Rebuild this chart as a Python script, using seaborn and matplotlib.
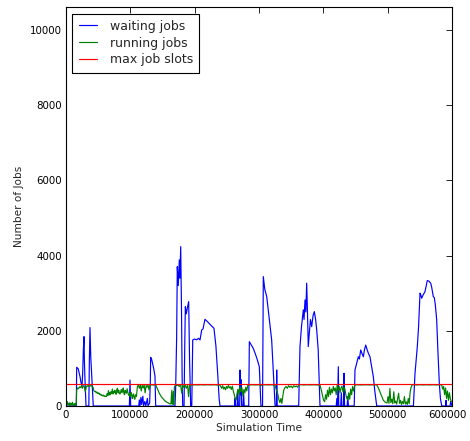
import matplotlib
matplotlib.use("Agg")
import matplotlib.pyplot as plt
import matplotlib.transforms as mtransforms
import seaborn as sns
import pandas as pd

# Simulation time in thousands of seconds, job counts
waiting_t = [0, 16, 16.6, 19, 21.8, 23, 24.9, 26, 27, 28, 28.6, 29.5, 31.1, 35.5, 36.3, 37.3, 38.5, 40, 41.5, 42.4,
             98.5, 99.5, 100.5, 113, 114, 115, 116.5, 117.5, 119.5, 120.5, 122.5, 124, 126.5, 127.5, 130, 131,
             131.6, 133, 135, 136.5, 138.3, 139.4,
             169.4, 170.5, 172, 173, 174.5, 176.1, 177, 178.3, 179.5, 180.5, 181.4, 183.5, 184.5, 185.5, 187,
             188.5, 190.7, 192, 193.8, 195.5, 197, 200, 203, 206, 208.3, 210.9, 213, 216, 220, 225, 230, 233,
             236, 238, 239.4,
             262, 262.8, 263.6, 266, 267, 268, 270, 270.5, 271.3, 272, 273, 275, 276, 277, 284, 285, 288, 291,
             294, 297, 300.5, 303, 305.5, 306.7, 309, 312, 315, 317.5, 319.7, 322, 325, 327, 327.5, 328.3,
             361.7, 363.7, 366, 368.9, 370, 371.5, 372.8, 374.1, 375.2, 376.6, 378, 380, 381.9, 384, 386, 388,
             389.7, 392, 394.8,
             420, 421, 422, 423.3, 424, 427, 428, 429, 431.5, 432.1, 433, 437, 438, 439, 448, 449.2, 452, 454.4,
             456, 458.1, 460, 462.2, 464, 465.9, 468, 470, 472.5, 475, 477.7, 480, 483,
             540, 542.5, 546.1, 548, 550.3, 551.5, 552.9, 555, 558, 560, 561.6, 564, 566.9, 568.5, 570.9, 572.5,
             574, 576.2, 578, 580.3, 582, 584, 590, 590.7, 591.4, 597, 598, 600]
waiting_n = [0, 0, 1030, 990, 780, 650, 515, 900, 1500, 1845, 1200, 700, 0, 0, 1200, 2085, 1300, 800, 300, 0,
             0, 690, 0, 0, 160, 0, 230, 40, 260, 0, 120, 0, 200, 0, 80, 600,
             1295, 1250, 1100, 980, 800, 0,
             0, 500, 1845, 3705, 3200, 3884, 3400, 4237, 2600, 800, 0, 0, 1500, 2640, 2450,
             2600, 2775, 1300, 0, 0, 1755, 1780, 1760, 1800, 1755, 2020, 2050, 2305, 2240, 2150, 2065, 1600,
             800, 200, 0,
             0, 210, 0, 0, 420, 0, 0, 958, 300, 700, 0, 0, 380, 0, 0, 1710, 1620, 1535,
             1400, 1250, 1045, 0, 0, 3440, 3100, 2910, 2450, 2050, 1755, 1000, 0, 0, 958, 0,
             0, 1580, 2100, 2555, 2300, 2820, 2500, 3265, 2600, 1580, 1900, 2300, 2110, 2400, 2510, 2300,
             2020, 1500, 0,
             0, 200, 0, 1045, 0, 0, 350, 0, 0, 870, 0, 0, 250, 0, 0, 958, 1150, 1310,
             1250, 1490, 1400, 1310, 1500, 1620, 1500, 1400, 1310, 1050, 780, 400, 0,
             0, 870, 1580, 2100, 3000, 2950, 2865, 2950, 3040, 3200, 3335, 3320, 3265, 3150, 2910, 2880,
             2700, 2290, 1500, 600, 200, 0, 0, 150, 0, 0, 120, 0]

running_t = [0, 1, 2, 3, 4, 5, 6, 7, 8, 9, 10, 11, 12, 13, 14, 15, 16,
             16.6, 18, 19.5, 21, 22.5, 24, 25.5, 27, 28.5, 30, 31.5, 33, 34.5, 36, 37.5, 39, 40.5, 42,
             43.5, 45, 46, 47, 48, 49, 50, 51, 52, 53, 54, 55, 56, 57, 58, 59, 60, 61, 62, 63,
             64, 65, 66, 67, 68, 69, 70, 71, 72, 73, 74, 75, 76, 77, 78, 79, 80, 81, 82, 83, 84, 85, 86, 87,
             88, 89, 90, 91, 92, 93, 94, 95, 96, 97,
             98, 99, 100, 101, 102, 103, 104, 105, 106, 107, 108, 109.5,
             111, 112.5, 114, 115.5, 117, 118.5, 120, 121.5, 123, 124.5, 126, 127.5, 129, 130.5, 132, 134, 136,
             138, 139.4,
             141, 143, 145, 147, 149, 151, 153, 155, 157, 159, 161, 163, 164.5, 165, 166, 167, 167.5, 168.5, 170,
             172, 174, 176, 178, 180, 181.5, 183, 185, 187, 189, 190.5, 192, 194, 196, 200, 205, 210, 215, 220,
             225, 230, 235, 239,
             240.5, 242, 243.5, 245, 246.5, 248, 249.5, 251, 252.5, 254, 255.5, 257, 258.5, 260, 261.5, 263,
             264.5, 266, 267.5, 269, 270.5, 272, 273.5, 275, 276.5, 278, 279.5, 281, 282.5,
             285, 290, 295, 300, 303, 305, 310, 315, 320, 325,
             326.5, 328, 329.5, 331, 332.5, 334, 335.5, 337, 338.5, 340, 342, 344, 346, 348, 350, 352, 354, 356,
             358, 360, 361.7,
             365, 370, 375, 380, 385, 390, 394.8,
             396, 397.5, 399, 400.5, 402, 403.5, 405, 406.5, 408, 409.5, 411, 412.5, 414, 415.5, 417, 418.5, 420,
             421.5, 423, 424.5, 426, 427.5, 429, 430.5, 432, 433.5, 435, 436.5, 438, 439.5, 441, 442.5, 444,
             445.5, 447, 449,
             452, 458, 465, 472, 478, 483,
             485, 487, 489, 491, 493, 495, 497, 499, 500.5, 502, 503.5, 505, 506.5, 508, 509.5, 511, 512.5, 514,
             515.5, 517, 518.5, 520, 521.5, 523, 524.5, 526, 527.5, 529, 530.5, 532, 533.5, 535, 536.5, 538,
             540, 545, 550, 555, 560, 565, 570, 575, 580, 584,
             585.5, 587, 588.5, 590, 591.5, 593, 594.5, 596, 597.5, 599, 600]
running_n = [150, 40, 120, 30, 70, 20, 90, 10, 60, 30, 100, 20, 50, 10, 70, 30, 40,
             420, 480, 460, 510, 490, 530, 470, 540, 520, 380, 500, 540, 520, 550, 530, 545, 520, 500,
             400, 380, 390, 350, 370, 340, 330, 350, 310, 320, 290, 300, 280, 270, 290, 260, 270, 250, 260, 250,
             330, 280, 410, 290, 360, 300, 380, 330, 450, 320, 390, 360, 420, 330, 310, 440, 470, 350, 420, 330,
             320, 380, 440, 360, 400, 480, 330, 300, 420, 360, 340, 460, 380, 300,
             280, 330, 250, 360, 300, 200, 280, 320, 210, 180, 300, 250,
             520, 560, 470, 560, 400, 555, 480, 560, 350, 545, 500, 560, 430, 555, 560, 565, 560,
             555, 560,
             500, 420, 340, 280, 230, 190, 150, 120, 100, 80, 60, 55, 420, 60, 45, 380, 40, 500, 560,
             545, 560, 520, 560, 340, 560, 500, 560, 470, 560, 250, 540, 560, 555, 565, 560, 565, 560, 565,
             560, 565, 560, 555,
             520, 470, 540, 450, 500, 430, 520, 470, 545, 480, 510, 440, 530, 400, 300, 200,
             160, 350, 450, 300, 520, 380, 480, 260, 440, 350, 500, 400, 550,
             560, 565, 560, 565, 540, 560, 565, 560, 565, 550,
             450, 380, 300, 160, 90, 200, 70, 260, 420, 480, 520, 470, 540, 500, 530, 480, 540, 510,
             530, 500, 560,
             565, 560, 565, 560, 565, 560, 555,
             480, 380, 250, 150, 115, 300, 180, 420, 250, 500, 300, 450, 350, 520, 400, 480, 300,
             550, 420, 520, 350, 480, 530, 380, 500, 450, 300, 200, 160, 350, 180, 450, 300,
             520, 400, 560,
             565, 560, 565, 560, 565, 560,
             500, 420, 330, 250, 160, 120, 90, 80, 250, 70, 470, 90, 180, 60, 380, 80, 130, 50,
             200, 340, 70, 150, 40, 120, 60, 250, 50, 110, 40, 200, 60, 380, 500, 560,
             565, 560, 565, 560, 565, 560, 565, 560, 565, 560,
             450, 520, 300, 480, 200, 400, 150, 350, 180, 120, 115]

slots_t = [0, 600]
slots_n = [576, 576]

x_ticks = [0, 100000, 200000, 300000, 400000, 500000, 600000]
y_ticks = [0, 2000, 4000, 6000, 8000, 10000]

waiting = pd.DataFrame({"time": [t * 1000 for t in waiting_t], "jobs": waiting_n})
running = pd.DataFrame({"time": [t * 1000 for t in running_t], "jobs": running_n})
slots = pd.DataFrame({"time": [t * 1000 for t in slots_t], "jobs": slots_n})

sns.set_style("white")
plt.rcParams["font.family"] = ["DejaVu Sans"]

fig = plt.figure(figsize=(4.7, 4.41), dpi=100)
ax = fig.add_axes([66 / 470, 35 / 441, 386 / 470, 398.7 / 441])

lw = 0.85
sns.lineplot(data=waiting, x="time", y="jobs", ax=ax, color=(0, 0, 1), lw=lw,
             estimator=None, sort=False, label="waiting jobs")
sns.lineplot(data=running, x="time", y="jobs", ax=ax, color=(0, 0.5, 0), lw=lw,
             estimator=None, sort=False, label="running jobs")
sns.lineplot(data=slots, x="time", y="jobs", ax=ax, color=(1, 0, 0), lw=lw,
             estimator=None, sort=False, label="max job slots")

ax.set_xlim(0, 600000)
ax.set_ylim(0, 10600)
ax.set_xticks(x_ticks)
ax.set_yticks(y_ticks)
ax.ticklabel_format(style="plain", useOffset=False)
ax.tick_params(direction="in", length=4, width=0.6, top=True, right=True,
               labelsize=7.4, colors="black", pad=3)
for s in ax.spines.values():
    s.set_visible(True)
    s.set_color("black")
    s.set_linewidth(0.8)

# keep the last x tick label inside the canvas
last = ax.get_xticklabels()[-1]
last.set_transform(last.get_transform() +
                   mtransforms.ScaledTranslation(-3 / 72, 0, fig.dpi_scale_trans))

ax.set_xlabel("Simulation Time", fontsize=7.6, labelpad=2)
ax.set_ylabel("Number of Jobs", fontsize=7.6, labelpad=4)

leg = ax.legend(loc="upper left", fontsize=9, fancybox=False, framealpha=1,
                edgecolor="black", handlelength=1.5, handletextpad=1.0,
                labelspacing=0.3, borderpad=0.5, borderaxespad=0.5)
leg.get_frame().set_linewidth(0.8)

fig.savefig("out.png", dpi=100)
